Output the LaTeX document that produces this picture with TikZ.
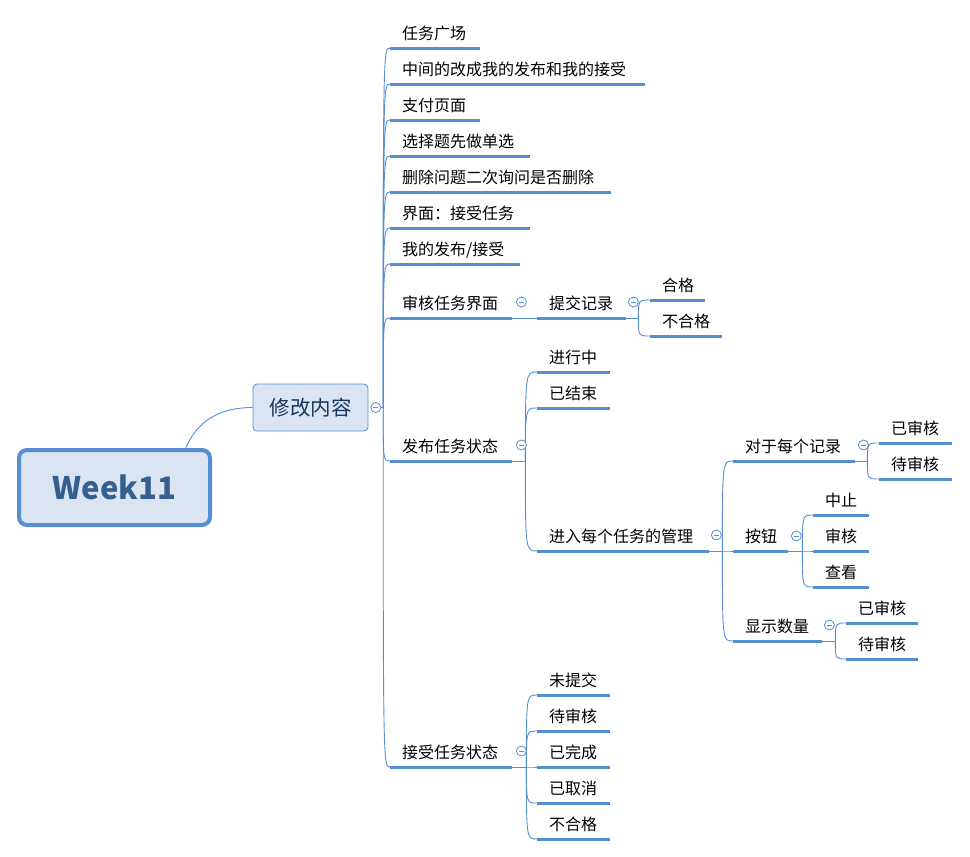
\documentclass[tikz,border=0pt]{standalone}
\usepackage{fontspec}
\newfontfamily\cjk{Noto Sans CJK SC}
\usetikzlibrary{positioning,calc}
\definecolor{xblue}{HTML}{558ED5}
\definecolor{xpale}{HTML}{DBE5F1}
\definecolor{xnavy}{HTML}{17365D}
\definecolor{xroot}{HTML}{365F91}

\tikzset{
  topic/.style={anchor=south west,inner xsep=12pt,inner ysep=3.5pt,text height=12pt,text depth=5pt,text width={#1-24pt},align=left},
  uline/.style={xblue,line width=3pt},
  conn/.style={xblue,line width=0.9pt},
  branch/.style={to path={.. controls (\tikztostart |- \tikztotarget) .. (\tikztotarget)}},
  fold/.style={circle,draw=xblue,fill=white,line width=0.8pt,minimum size=10pt,inner sep=0pt,
    path picture={\draw[xblue,line width=0.8pt] ([xshift=-2.6pt]path picture bounding box.center) -- ([xshift=2.6pt]path picture bounding box.center);}},
}

\begin{document}
\begin{tikzpicture}[x=1pt,y=-1pt,font=\cjk\fontsize{16}{19}\selectfont]
\useasboundingbox (0,0) rectangle (970,857);

% central topic and main branch
\node[draw=xblue,line width=4pt,fill=xpale,rounded corners=8pt,minimum width=191pt,minimum height=75pt,text=xroot,font=\cjk\bfseries\fontsize{31}{37}\selectfont] (root) at (114.5,487.5) {Week11};
\node[draw=xblue,line width=0.8pt,fill=xpale,rounded corners=4pt,minimum width=115pt,minimum height=47pt,text=xnavy,font=\cjk\fontsize{20.5}{24}\selectfont] (xg) at (310.5,407.5) {修改内容};
\node[fold,right=2pt of xg] (c0) {};
\coordinate[right=2pt of c0] (f0);

% first level
\node[topic=90pt] (t1) at (390,48) {任务广场};
\node[topic=255pt] (t2) at (390,84) {中间的改成我的发布和我的接受};
\node[topic=90pt] (t3) at (390,120) {支付页面};
\node[topic=140pt] (t4) at (390,156) {选择题先做单选};
\node[topic=221pt] (t5) at (390,192) {删除问题二次询问是否删除};
\node[topic=140pt] (t6) at (390,228) {界面：接受任务};
\node[topic=130pt] (t7) at (390,264) {我的发布/接受};
\node[topic=122pt] (t8) at (390,318) {审核任务界面};
\node[topic=122pt] (t9) at (390,461) {发布任务状态};
\node[topic=122pt] (t10) at (390,767) {接受任务状态};

% 审核任务界面
\node[topic=89pt] (s1) at (537,318) {提交记录};
\node[topic=55pt] (g1) at (650,300) {合格};
\node[topic=72pt] (g2) at (650,336) {不合格};

% 发布任务状态
\node[topic=73pt] (s2) at (537,372) {进行中};
\node[topic=73pt] (s3) at (537,408) {已结束};
\node[topic=172pt] (s4) at (537,551) {进入每个任务的管理};
\node[topic=122pt] (m1) at (733,461) {对于每个记录};
\node[topic=55pt] (m2) at (733,551) {按钮};
\node[topic=89pt] (m3) at (733,641) {显示数量};
\node[topic=73pt] (a1) at (879,443) {已审核};
\node[topic=73pt] (a2) at (879,479) {待审核};
\node[topic=56pt] (b1) at (813,515) {中止};
\node[topic=56pt] (b2) at (813,551) {审核};
\node[topic=56pt] (b3) at (813,587) {查看};
\node[topic=72pt] (d1) at (846,623) {已审核};
\node[topic=72pt] (d2) at (846,659) {待审核};

% 接受任务状态
\node[topic=73pt] (r1) at (537,695) {未提交};
\node[topic=73pt] (r2) at (537,731) {待审核};
\node[topic=73pt] (r3) at (537,767) {已完成};
\node[topic=73pt] (r4) at (537,803) {已取消};
\node[topic=73pt] (r5) at (537,839) {不合格};

% forks
\coordinate (fs1) at ($(s1.south east)+(12,0)$);
\coordinate (f9) at ($(t9.south east)+(13,0)$);
\coordinate (fs4) at ($(s4.south east)+(13,0)$);
\coordinate (fm1) at ($(m1.south east)+(12,0)$);
\coordinate (fm2) at ($(m2.south east)+(14,0)$);
\coordinate (fm3) at ($(m3.south east)+(13,0)$);
\coordinate (f10) at ($(t10.south east)+(14,0)$);

% connectors
\draw[conn] (root.29) .. controls ($(root.29)+(12,-28)$) and ($(xg.west)+(-32,0)$) .. (xg.west);
\draw[conn] (c0.east) -- (f0);
\foreach \n in {t1,t2,t3,t4,t5,t6,t7,t8,t9,t10}
  \draw[conn] (f0) to[branch] (\n.south west);
\draw[conn] (t8.south east) -- (s1.south west);
\draw[conn] (s1.south east) -- (fs1);
\foreach \n in {g1,g2}
  \draw[conn] (fs1) to[branch] (\n.south west);
\draw[conn] (t9.south east) -- (f9);
\foreach \n in {s2,s3,s4}
  \draw[conn] (f9) to[branch] (\n.south west);
\draw[conn] (s4.south east) -- (fs4);
\foreach \n in {m1,m2,m3}
  \draw[conn] (fs4) to[branch] (\n.south west);
\draw[conn] (m1.south east) -- (fm1);
\foreach \n in {a1,a2}
  \draw[conn] (fm1) to[branch] (\n.south west);
\draw[conn] (m2.south east) -- (fm2);
\foreach \n in {b1,b2,b3}
  \draw[conn] (fm2) to[branch] (\n.south west);
\draw[conn] (m3.south east) -- (fm3);
\foreach \n in {d1,d2}
  \draw[conn] (fm3) to[branch] (\n.south west);
\draw[conn] (t10.south east) -- (f10);
\foreach \n in {r1,r2,r3,r4,r5}
  \draw[conn] (f10) to[branch] (\n.south west);

% underlines
\foreach \n in {t1,t2,t3,t4,t5,t6,t7,t8,t9,t10,s1,s2,s3,s4,g1,g2,m1,m2,m3,a1,a2,b1,b2,b3,d1,d2,r1,r2,r3,r4,r5}
  \draw[uline] (\n.south west) -- (\n.south east);

% fold markers
\node[fold] (c8) at ($(t8.south east)+(9,-16)$) {};
\node[fold] (c9) at ($(t9.south east)+(9,-16)$) {};
\node[fold] (c10) at ($(t10.south east)+(9,-16)$) {};
\node[fold] (cs1) at ($(s1.south east)+(7,-16)$) {};
\node[fold] (cs4) at ($(s4.south east)+(7,-16)$) {};
\node[fold] (cm1) at ($(m1.south east)+(8,-16)$) {};
\node[fold] (cm2) at ($(m2.south east)+(8,-15)$) {};
\node[fold] (cm3) at ($(m3.south east)+(7,-16)$) {};
\end{tikzpicture}
\end{document}
